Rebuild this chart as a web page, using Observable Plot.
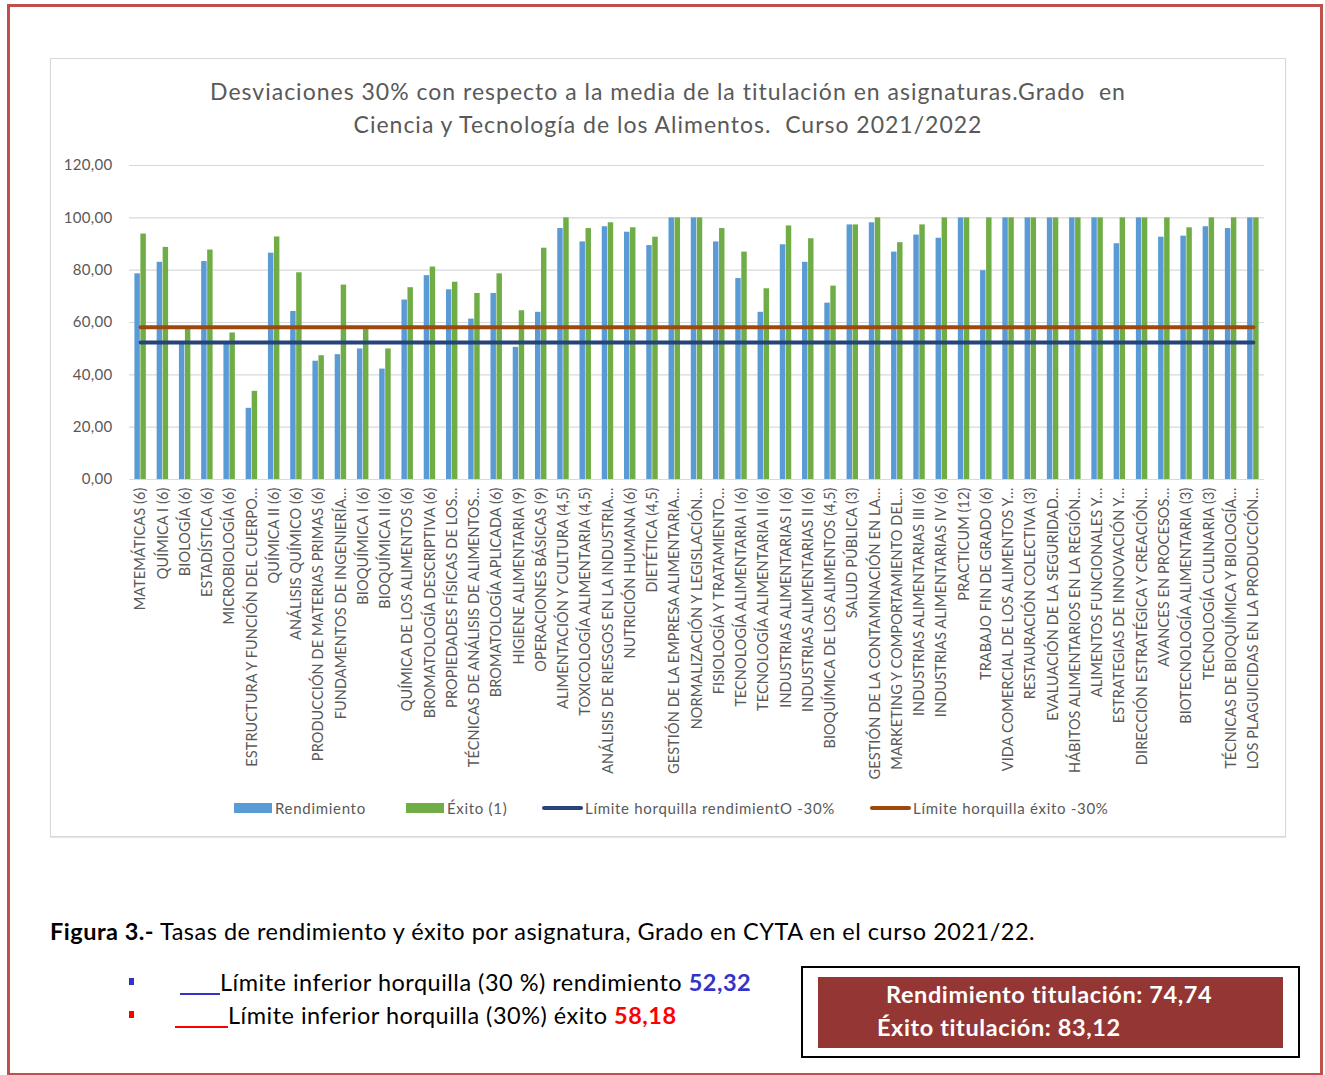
<!DOCTYPE html>
<html>
<head>
<meta charset="utf-8">
<script src="https://cdn.jsdelivr.net/npm/d3@7"></script>
<script src="https://cdn.jsdelivr.net/npm/@observablehq/plot@0.6"></script>
<style>
  html, body { margin: 0; padding: 0; background: #fff; }
  #page { position: relative; width: 1325px; height: 1075px; overflow: hidden; font-family: Lato, "Open Sans", sans-serif; }
  #redborder { position: absolute; left: 7px; top: 4px; width: 1310px; height: 1066px; border: 3px solid #C0504D; }
  #frame { position: absolute; left: 50px; top: 58px; width: 1234px; height: 777px; border: 1px solid #D9D9D9; box-shadow: 0 1px 1px #e6e6e6; }
  #title { position: absolute; left: 50px; width: 1236px; top: 75px; text-align: center; color: #595959; font-size: 23px; letter-spacing: 1px; line-height: 33px; }
  #chart { position: absolute; left: 0; top: 0; }
  .leg { position: absolute; top: 798px; font-size: 15px; letter-spacing: 0.7px; color: #595959; line-height: 20px; white-space: nowrap; }
  .sw { position: absolute; }
  .txt { position: absolute; white-space: nowrap; color: #000; font-size: 23.5px; letter-spacing: 0.5px; }
  .bul { position: absolute; width: 5px; height: 7px; }
  .us { display: inline-block; vertical-align: -4px; height: 0; }
</style>
</head>
<body>
<div id="page">
  <div id="redborder"></div>
  <div id="frame"></div>
  <div id="title">Desviaciones 30% con respecto a la media de la titulación en asignaturas.Grado&nbsp; en<br>Ciencia y Tecnología de los Alimentos.&nbsp; Curso 2021/2022</div>
  <div id="chart"></div>
  <div id="legend"></div>
  <div class="txt" style="left:50px; top:917px;"><b>Figura 3.-</b> Tasas de rendimiento y éxito por asignatura, Grado en CYTA en el curso 2021/22.</div>
  <div class="bul" style="left:129px; top:978px; background:#3333CC;"></div>
  <div class="txt" style="left:180px; top:968px;"><span class="us" style="width:40px; border-bottom:2px solid #3333CC;"></span>Límite inferior horquilla (30 %) rendimiento <b style="color:#3333CC">52,32</b></div>
  <div class="bul" style="left:129px; top:1011px; background:#FF0000;"></div>
  <div class="txt" style="left:175px; top:1001px;"><span class="us" style="width:53px; border-bottom:2px solid #FF0000;"></span>Límite inferior horquilla (30%) éxito <b style="color:#FF0000">58,18</b></div>
  <div style="position:absolute; left:801px; top:966px; width:495px; height:88px; border:2px solid #000;"></div>
  <div style="position:absolute; left:818px; top:977px; width:465px; height:71px; background:#943634;"></div>
  <div class="txt" style="left:886px; top:980px; color:#fff; font-weight:bold; letter-spacing:0.6px;">Rendimiento titulación: 74,74</div>
  <div class="txt" style="left:877px; top:1013px; color:#fff; font-weight:bold; letter-spacing:0.6px;">Éxito titulación: 83,12</div>
</div>
<script>
const categories = [
  "MATEMÁTICAS (6)", "QUÍMICA I (6)", "BIOLOGÍA (6)", "ESTADÍSTICA (6)", "MICROBIOLOGÍA (6)",
  "ESTRUCTURA Y FUNCIÓN DEL CUERPO…", "QUÍMICA II (6)", "ANÁLISIS QUÍMICO (6)",
  "PRODUCCIÓN DE MATERIAS PRIMAS (6)", "FUNDAMENTOS DE INGENIERÍA…", "BIOQUÍMICA I (6)",
  "BIOQUÍMICA II (6)", "QUÍMICA DE LOS ALIMENTOS (6)", "BROMATOLOGÍA DESCRIPTIVA (6)",
  "PROPIEDADES FÍSICAS DE LOS…", "TÉCNICAS DE ANÁLISIS DE ALIMENTOS…", "BROMATOLOGÍA APLICADA (6)",
  "HIGIENE ALIMENTARIA (9)", "OPERACIONES BÁSICAS (9)", "ALIMENTACIÓN Y CULTURA (4,5)",
  "TOXICOLOGÍA ALIMENTARIA (4,5)", "ANÁLISIS DE RIESGOS EN LA INDUSTRIA…", "NUTRICIÓN HUMANA (6)",
  "DIETÉTICA (4,5)", "GESTIÓN DE LA EMPRESA ALIMENTARIA…", "NORMALIZACIÓN Y LEGISLACIÓN…",
  "FISIOLOGÍA Y TRATAMIENTO…", "TECNOLOGÍA ALIMENTARIA I (6)", "TECNOLOGÍA ALIMENTARIA II (6)",
  "INDUSTRIAS ALIMENTARIAS I (6)", "INDUSTRIAS ALIMENTARIAS II (6)", "BIOQUÍMICA DE LOS ALIMENTOS (4,5)",
  "SALUD PÚBLICA (3)", "GESTIÓN DE LA CONTAMINACIÓN EN LA…", "MARKETING Y COMPORTAMIENTO DEL…",
  "INDUSTRIAS ALIMENTARIAS III (6)", "INDUSTRIAS ALIMENTARIAS IV (6)", "PRACTICUM (12)",
  "TRABAJO FIN DE GRADO (6)", "VIDA COMERCIAL DE LOS ALIMENTOS Y…", "RESTAURACIÓN COLECTIVA (3)",
  "EVALUACIÓN DE LA SEGURIDAD…", "HÁBITOS ALIMENTARIOS EN LA REGIÓN…", "ALIMENTOS FUNCIONALES Y…",
  "ESTRATEGIAS DE INNOVACIÓN Y…", "DIRECCIÓN ESTRATÉGICA Y CREACIÓN…", "AVANCES EN PROCESOS…",
  "BIOTECNOLOGÍA ALIMENTARIA (3)", "TECNOLOGÍA CULINARIA (3)", "TÉCNICAS DE BIOQUÍMICA Y BIOLOGÍA…",
  "LOS PLAGUICIDAS EN LA PRODUCCIÓN…"
];
const rendimiento = [
  78.6, 83.0, 52.0, 83.3, 51.8, 27.2, 86.5, 64.2, 45.2, 47.7,
  49.9, 42.2, 68.6, 77.9, 72.5, 61.3, 71.1, 50.5, 63.9, 95.9,
  90.8, 96.6, 94.5, 89.4, 100, 100, 90.8, 76.8, 63.9, 89.7,
  83.0, 67.4, 97.3, 98.1, 86.9, 93.4, 92.2, 100, 79.8, 100,
  100, 100, 100, 100, 90.1, 100, 92.6, 93.0, 96.6, 95.9, 100
];
const exito = [
  93.8, 88.7, 57.5, 87.7, 56.0, 33.7, 92.7, 79.0, 47.3, 74.3,
  57.3, 49.9, 73.3, 81.2, 75.4, 71.1, 78.6, 64.5, 88.4, 100,
  95.9, 98.1, 96.2, 92.6, 100, 100, 95.9, 86.9, 72.9, 96.9,
  92.0, 73.9, 97.3, 100, 90.5, 97.3, 100, 100, 100, 100,
  100, 100, 100, 100, 100, 100, 100, 96.2, 100, 100, 100
];
const limiteRendimiento = 52.32;
const limiteExito = 58.18;
const yTicks = [0, 20, 40, 60, 80, 100, 120];

const rows = categories.map((c, i) => ({
  asignatura: c,
  rendimiento: rendimiento[i],
  exito: exito[i],
  limR: limiteRendimiento,
  limE: limiteExito
}));

const fmt = d => d.toFixed(2).replace(".", ",");

const chart = Plot.plot({
  width: 1325,
  height: 800,
  marginLeft: 129,
  marginRight: 61,
  marginTop: 165,
  marginBottom: 321,
  style: { fontFamily: "Lato, 'Open Sans', sans-serif", fontSize: "14.5px", letterSpacing: "0.1px", color: "#595959", background: "transparent", overflow: "visible" },
  x: { domain: categories, padding: 0, round: false, tickSize: 0, tickRotate: -90, tickPadding: 8, label: null },
  y: { domain: [0, 120], ticks: yTicks, tickFormat: fmt, tickSize: 0, tickPadding: 17, label: null },
  marks: [
    Plot.ruleY(yTicks, { stroke: "#D9D9D9", strokeWidth: 1.2 }),
    Plot.barY(rows, { x: "asignatura", y: "rendimiento", fill: "#5B9BD5", insetLeft: 5.4, insetRight: 11.4 }),
    Plot.barY(rows, { x: "asignatura", y: "exito", fill: "#70AD47", insetLeft: 11.4, insetRight: 5.4 }),
    Plot.lineY(rows, { x: "asignatura", y: "limR", stroke: "#264478", strokeWidth: 4, strokeLinecap: "round" }),
    Plot.lineY(rows, { x: "asignatura", y: "limE", stroke: "#9E480E", strokeWidth: 4, strokeLinecap: "round" })
  ]
});
chart.querySelectorAll("text").forEach(t => t.setAttribute("fill", "#595959"));
chart.querySelectorAll("[aria-label='y-axis tick label'] text, g[aria-label='y-axis tick label']").forEach(g => { g.style.fontSize = "15px"; g.style.letterSpacing = "0.3px"; });
document.getElementById("chart").appendChild(chart);

const legendItems = [
  { label: "Rendimiento", kind: "rect", color: "#5B9BD5", x: 234 },
  { label: "Éxito (1)", kind: "rect", color: "#70AD47", x: 406 },
  { label: "Límite horquilla rendimientO -30%", kind: "line", color: "#264478", x: 542 },
  { label: "Límite horquilla éxito -30%", kind: "line", color: "#9E480E", x: 870 }
];
const leg = document.getElementById("legend");
legendItems.forEach(it => {
  const sw = document.createElement("div");
  sw.className = "sw";
  sw.style.left = it.x + "px";
  sw.style.background = it.color;
  if (it.kind === "rect") { sw.style.top = "803px"; sw.style.width = "38px"; sw.style.height = "10px"; }
  else { sw.style.top = "806px"; sw.style.width = "41px"; sw.style.height = "4px"; sw.style.borderRadius = "2px"; }
  leg.appendChild(sw);
  const tx = document.createElement("div");
  tx.className = "leg";
  tx.style.left = (it.x + (it.kind === "rect" ? 41 : 43)) + "px";
  tx.textContent = it.label;
  leg.appendChild(tx);
});
</script>
</body>
</html>
